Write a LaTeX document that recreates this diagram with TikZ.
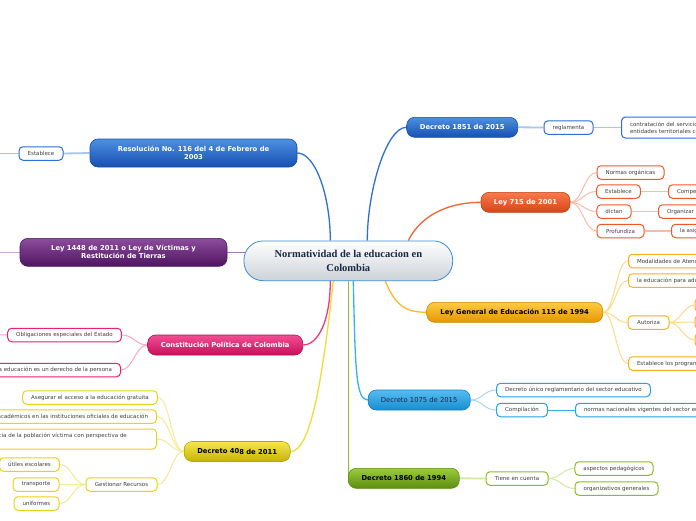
\documentclass[tikz,border=0pt]{standalone}
\usepackage{fontspec}
\setmainfont{DejaVu Sans}
\newfontfamily\titlefont{Liberation Serif}
\usetikzlibrary{backgrounds}
\definecolor{blueT}{HTML}{4C90E2}\definecolor{blueB}{HTML}{1650B2}\definecolor{blueD}{HTML}{1B4E9E}
\definecolor{blueM}{HTML}{2E6FD4}\definecolor{blueL}{HTML}{A8C6EE}\definecolor{blueLeaf}{HTML}{2A6ED6}
\definecolor{purT}{HTML}{8C4C9C}\definecolor{purB}{HTML}{4E1460}\definecolor{purD}{HTML}{4A1A5A}
\definecolor{purM}{HTML}{A878B8}\definecolor{purL}{HTML}{C9A9D3}
\definecolor{pinkT}{HTML}{F24E94}\definecolor{pinkB}{HTML}{C80E5A}\definecolor{pinkD}{HTML}{B01050}
\definecolor{pinkM}{HTML}{EC3A80}\definecolor{pinkL}{HTML}{F7A6C6}\definecolor{pinkLeaf}{HTML}{E8206E}
\definecolor{yelT}{HTML}{F5E84A}\definecolor{yelB}{HTML}{C8B300}\definecolor{yelD}{HTML}{B8A400}
\definecolor{yelM}{HTML}{F0DC34}\definecolor{yelL}{HTML}{F5EA96}\definecolor{yelLeaf}{HTML}{EBD21A}
\definecolor{redT}{HTML}{F87A4A}\definecolor{redB}{HTML}{D5451A}\definecolor{redD}{HTML}{C04010}
\definecolor{redM}{HTML}{F06434}\definecolor{redL}{HTML}{F8BCA6}\definecolor{redLeaf}{HTML}{F0582A}
\definecolor{golT}{HTML}{FDCB45}\definecolor{golB}{HTML}{E69600}\definecolor{golD}{HTML}{D08A00}
\definecolor{golM}{HTML}{F8BA26}\definecolor{golL}{HTML}{FCDA88}\definecolor{golLeaf}{HTML}{F8B218}
\definecolor{skyT}{HTML}{56BCF2}\definecolor{skyB}{HTML}{168ED0}\definecolor{skyD}{HTML}{1280C0}
\definecolor{skyM}{HTML}{38B0F0}\definecolor{skyL}{HTML}{A4D8F6}\definecolor{skyLeaf}{HTML}{22A2E8}
\definecolor{grnT}{HTML}{9CCB3A}\definecolor{grnB}{HTML}{5C8E10}\definecolor{grnD}{HTML}{5A8A10}
\definecolor{grnM}{HTML}{8CC024}\definecolor{grnL}{HTML}{D2E8A4}\definecolor{grnLeaf}{HTML}{8CBC22}
\definecolor{centralB}{HTML}{CDD2D7}\definecolor{centralD}{HTML}{3A8CD6}
\definecolor{navy}{HTML}{1B2747}\definecolor{leaftext}{HTML}{404040}
\tikzset{
  central/.style={draw=centralD, line width=0.8pt, top color=white, bottom color=centralB,
    rounded corners=19pt, minimum width=208.7pt, minimum height=39.7pt, inner sep=0pt,
    align=center, font=\titlefont\fontsize{10.5}{14}\selectfont\bfseries, text=navy},
  mainbox/.style n args={3}{top color=#1, bottom color=#2, draw=#3, line width=0.6pt,
    rounded corners=8pt, inner sep=0pt, align=center, minimum height=20pt,
    font=\fontsize{6.8}{8}\selectfont\bfseries},
  leaf/.style={draw=#1, line width=1pt, fill=white, rounded corners=4pt, inner xsep=8.5pt,
    inner ysep=0pt, minimum height=13.5pt, font=\fontsize{5.5}{6.8}\selectfont, text=leaftext},
  mainline/.style={draw=#1, line width=1.3pt},
  subline/.style={draw=#1, line width=1pt},
  thickline/.style={draw=#1, line width=1.8pt},
}
\begin{document}
\begin{tikzpicture}[x=1pt,y=-1pt]
\useasboundingbox (0,0) rectangle (696,520);
\clip (0,0) rectangle (696,520);
% central
\node[central] (c) at (348.3,260.8) {Normatividad de la educacion en\\Colombia};
% main branches
\node[mainbox={blueT}{blueB}{blueD}, text=white, minimum width=207pt, minimum height=28pt] (res) at (193.5,153) {Resolución No. 116 del 4 de Febrero de\\2003};
\node[mainbox={purT}{purB}{purD}, text=white, minimum width=207pt, minimum height=28pt] (lv) at (123.5,252.3) {Ley 1448 de 2011 o Ley de Víctimas y\\Restitución de Tierras};
\node[mainbox={pinkT}{pinkB}{pinkD}, text=white, minimum width=155pt] (cp) at (225.2,345) {Constitución Política de Colombia};
\node[mainbox={yelT}{yelB}{yelD}, text=black, minimum width=106pt] (d408) at (237.2,451.5) {Decreto 40\raisebox{-1.5pt}{8 de 2011}};
\node[mainbox={blueT}{blueB}{blueD}, text=white, minimum width=111pt] (d1851) at (462.2,127.3) {Decreto 1851 de 2015};
\node[mainbox={redT}{redB}{redD}, text=white, minimum width=89pt] (l715) at (525.5,202.3) {Ley 715 de 2001};
\node[mainbox={golT}{golB}{golD}, text=black, minimum width=176pt] (lg) at (514.7,312.3) {Ley General de Educación 115 de 1994};
\node[mainbox={skyT}{skyB}{skyD}, text=navy, minimum width=102pt, font=\fontsize{6.8}{8}\selectfont] (d1075) at (419.2,400) {Decreto 1075 de 2015};
\node[mainbox={grnT}{grnB}{grnD}, text=black, minimum width=111pt] (d1860) at (403.8,478.3) {Decreto 1860 de 1994};
% left leaves
\node[leaf=blueLeaf, minimum width=44pt] (est) at (41,153.5) {Establece};
\coordinate (estout) at (-6,153.5);
\coordinate (lvout) at (-6,252.3);
\node[leaf=pinkLeaf, minimum width=113pt] (obl) at (64.5,335) {Obligaciones especiales del Estado};
\coordinate (oblout) at (-6,334.5);
\node[leaf=pinkLeaf, anchor=east] (der) at (121,370) {La educación es un derecho de la persona};
\node[leaf=yelLeaf, minimum width=134pt] (ase) at (90,397.5) {Asegurar el acceso a la educación gratuita};
\node[leaf=yelLeaf, anchor=east] (aca) at (157,416.5) {académicos en las instituciones oficiales de educación};
\node[leaf=yelLeaf, anchor=east, text width=149.5pt, align=left, minimum height=20pt] (vic) at (157,439) {cia de la población víctima con perspectiva de\\~};
\node[leaf=yelLeaf, minimum width=71pt] (ges) at (121.5,484.5) {Gestionar Recursos};
\node[leaf=yelLeaf, minimum width=59pt] (uti) at (29.5,464.5) {útiles escolares};
\node[leaf=yelLeaf, minimum width=46pt] (tra) at (36,484.5) {transporte};
\node[leaf=yelLeaf, minimum width=45pt] (uni) at (36.5,503.5) {uniformes};
% right leaves
\node[leaf=blueLeaf, minimum width=49pt] (reg) at (568.5,127.5) {reglamenta};
\node[leaf=blueLeaf, anchor=west, align=left, minimum height=21pt] (con) at (621,127.5) {contratación del servicio educativo por parte de las\\entidades territoriales certificadas};
\node[leaf=redLeaf, minimum width=67pt] (nor) at (630.5,172.5) {Normas orgánicas};
\node[leaf=redLeaf, minimum width=43pt] (est2) at (618.5,191.5) {Establece};
\node[leaf=redLeaf, anchor=west] (com) at (668,191.5) {Competencias};
\node[leaf=redLeaf, minimum width=34pt] (dic) at (614,211.5) {dictan};
\node[leaf=redLeaf, anchor=west] (org) at (658,211.5) {Organizar la prestación};
\node[leaf=redLeaf, minimum width=47pt] (pro) at (620.5,231) {Profundiza};
\node[leaf=redLeaf, anchor=west] (asi) at (671,231) {la asignación de recursos};
\node[leaf=golLeaf, anchor=west] (mod) at (628,261) {Modalidades de Atención Educativa};
\node[leaf=golLeaf, anchor=west] (adu) at (628,280.5) {la educación para adultos};
\node[leaf=golLeaf, minimum width=41pt] (aut) at (648.5,322.5) {Autoriza};
\node[leaf=golLeaf, anchor=west, minimum width=20pt] (au1) at (694.5,305) {};
\node[leaf=golLeaf, anchor=west, minimum width=20pt] (au2) at (694.5,322) {};
\node[leaf=golLeaf, anchor=west, minimum width=20pt] (au3) at (694.5,340) {};
\node[leaf=golLeaf, anchor=west] (pgm) at (628,363.5) {Establece los programas};
\node[leaf=skyLeaf, minimum width=153pt] (dun) at (573.5,390) {Decreto único reglamentario del sector educativo};
\node[leaf=skyLeaf, minimum width=50pt] (cmp) at (522,410) {Compilación};
\node[leaf=skyLeaf, anchor=west] (nnv) at (575,410) {normas nacionales vigentes del sector educativo};
\node[leaf=grnLeaf, minimum width=62pt] (tie) at (517,478.5) {Tiene en cuenta};
\node[leaf=grnLeaf, minimum width=78pt] (asp) at (614,468.5) {aspectos pedagógicos};
\node[leaf=grnLeaf, minimum width=83pt] (orgz) at (616.5,488.5) {organizativos generales};
% connectors
\begin{pgfonlayer}{background}
\fill[white] (0,0) rectangle (696,520);
\clip (0,0) rectangle (696,520);
% main
\path[mainline=blueM] ([xshift=-18pt]c.north) .. controls +(0,-45) and +(18,0) .. (res.east);
\path[mainline=blueM] ([xshift=19pt]c.north) .. controls +(0,-50) and +(-20,0) .. (d1851.west);
\path[mainline=redM] ([xshift=60pt]c.north) .. controls +(15,-30) and +(-25,0) .. (l715.west);
\path[mainline=purM] (lv.east) -- ([xshift=3pt,yshift=8.5pt]c.west);
\path[mainline=pinkM] ([xshift=-18pt]c.south) .. controls +(0,40) and +(15,0) .. (cp.east);
\path[mainline=yelM] ([xshift=-15pt]c.south) .. controls +(-11,100) and +(20,0) .. (d408.east);
\path[mainline=grnM] (c.south) -- (c.south |- d1860.west);
\path[mainline=skyM] ([xshift=5pt]c.south) .. controls +(2,90) and +(-12,0) .. (d1075.west);
\path[mainline=golM] ([xshift=37pt]c.south) .. controls +(10,25) and +(-20,0) .. (lg.west);
% left sub
\path[thickline=blueL] (res.west) -- (est.east);
\path[subline=blueL] (est.west) -- (estout);
\path[subline=purL] (lv.west) -- (lvout);
\path[subline=pinkL] (obl.west) -- (oblout);
\path[subline=pinkL] (cp.west) .. controls +(-12,0) and +(12,0) .. (obl.east);
\path[subline=pinkL] (cp.west) .. controls +(-12,0) and +(12,0) .. (der.east);
\path[subline=yelL] (d408.west) .. controls +(-12,0) and +(12,0) .. (ase.east);
\path[subline=yelL] (d408.west) .. controls +(-12,0) and +(12,0) .. (aca.east);
\path[subline=yelL] (d408.west) .. controls +(-12,0) and +(12,0) .. (vic.east);
\path[subline=yelL] (d408.west) .. controls +(-12,0) and +(12,0) .. (ges.east);
\path[subline=yelL] (ges.west) .. controls +(-12,0) and +(12,0) .. (uti.east);
\path[thickline=yelL] (ges.west) -- (tra.east);
\path[subline=yelL] (ges.west) .. controls +(-12,0) and +(12,0) .. (uni.east);
% right sub
\path[thickline=blueL] (d1851.east) -- (reg.west);
\path[thickline=blueL] (reg.east) -- (con.west);
\foreach \n in {nor,est2,dic,pro}
  \path[subline=redL] (l715.east) .. controls +(12,0) and +(-12,0) .. (\n.west);
\path[thickline=redL] (est2.east) -- (com.west);
\path[subline=redL] (dic.east) -- (org.west);
\path[thickline=redL] (pro.east) -- (asi.west);
\foreach \n in {mod,adu,aut,pgm}
  \path[subline=golL] (lg.east) .. controls +(12,0) and +(-12,0) .. (\n.west);
\foreach \n in {au1,au2,au3}
  \path[subline=golL] (aut.east) .. controls +(10,0) and +(-10,0) .. (\n.west);
\path[subline=skyL] (d1075.east) .. controls +(12,0) and +(-12,0) .. (dun.west);
\path[subline=skyL] (d1075.east) .. controls +(12,0) and +(-12,0) .. (cmp.west);
\path[subline=skyM] (cmp.east) -- (nnv.west);
\path[thickline=grnL] (d1860.east) -- (tie.west);
\path[subline=grnL] (tie.east) .. controls +(12,0) and +(-12,0) .. (asp.west);
\path[subline=grnL] (tie.east) .. controls +(12,0) and +(-12,0) .. (orgz.west);
\end{pgfonlayer}
\end{tikzpicture}
\end{document}
